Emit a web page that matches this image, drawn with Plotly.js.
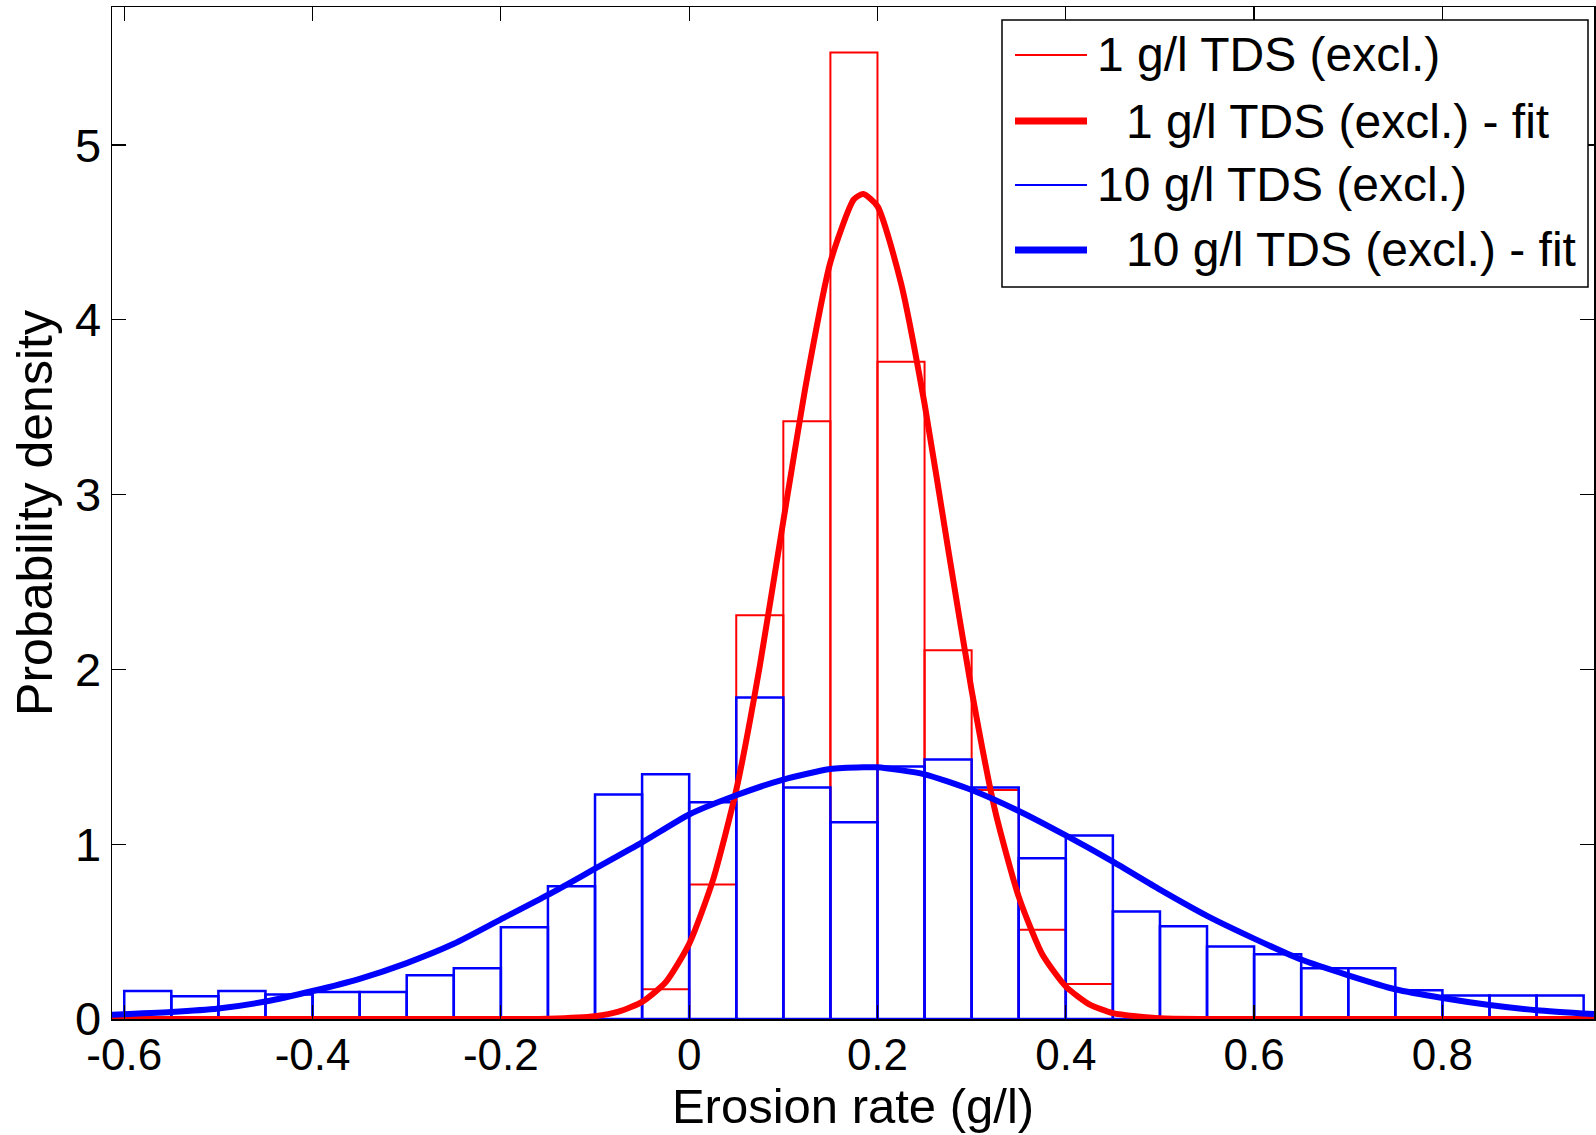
<!DOCTYPE html>
<html>
<head>
<meta charset="utf-8">
<script src="https://cdn.plot.ly/plotly-3.0.1.min.js"></script>
<style>html,body{margin:0;padding:0;background:#fff;}#chart{width:1596px;height:1135px;}</style>
</head>
<body>
<div id="chart"></div>
<script>
// Histogram bin centres (bin width 0.05, edges from -0.6 to 0.95)
const binCenters = [-0.575,-0.525,-0.475,-0.425,-0.375,-0.325,-0.275,-0.225,-0.175,-0.125,-0.075,-0.025,
  0.025,0.075,0.125,0.175,0.225,0.275,0.325,0.375,0.425,0.475,0.525,0.575,0.625,0.675,0.725,0.775,0.825,0.875,0.925];
const binWidth = 0.05;

// 1 g/l TDS (excl.) histogram densities
const red1Hist = [0,0,0,0,0,0,0,0,0,0,0,0.17,
  0.77,2.31,3.42,5.53,3.76,2.11,1.31,0.51,0.20,0,0,0,0,0,0,0,0,0,0];

// 10 g/l TDS (excl.) histogram densities
const blue10Hist = [0.16,0.13,0.16,0.14,0.155,0.155,0.25,0.29,0.525,0.76,1.285,1.40,
  1.24,1.84,1.325,1.125,1.445,1.485,1.325,0.92,1.05,0.615,0.53,0.415,0.37,0.29,0.29,0.165,0.135,0.135,0.135];

// 1 g/l TDS fit curve
const redFitX = [-0.613,-0.3,-0.2,-0.15,-0.1,-0.075,-0.05,-0.025,0,0.025,0.05,0.075,0.1,0.125,0.15,0.175,0.185,0.2,0.225,0.25,0.275,0.3,0.325,0.35,0.375,0.4,0.425,0.45,0.5,0.55,0.7,0.961];
const redFitY = [0,0,0,0.002,0.016,0.042,0.098,0.21,0.43,0.79,1.31,2.02,2.85,3.66,4.33,4.69,4.72,4.65,4.21,3.52,2.69,1.88,1.19,0.70,0.37,0.186,0.084,0.034,0.004,0,0,0];

// 10 g/l TDS fit curve
const blueFitX = [-0.613,-0.55,-0.5,-0.45,-0.4,-0.35,-0.3,-0.25,-0.2,-0.15,-0.1,-0.05,0,0.05,0.1,0.15,0.185,0.2,0.25,0.3,0.35,0.4,0.45,0.5,0.55,0.6,0.65,0.7,0.75,0.8,0.85,0.9,0.961];
const blueFitY = [0.025,0.04,0.06,0.10,0.16,0.23,0.32,0.43,0.57,0.71,0.86,1.01,1.17,1.28,1.37,1.43,1.44,1.44,1.40,1.31,1.19,1.05,0.90,0.74,0.59,0.46,0.34,0.25,0.17,0.12,0.08,0.05,0.028];

const xTicks = [-0.6,-0.4,-0.2,0,0.2,0.4,0.6,0.8];
const xTickText = ['-0.6','-0.4','-0.2','0','0.2','0.4','0.6','0.8'];
const yTicks = [0,1,2,3,4,5];

// Legend entries
const seriesNames = ['1 g/l TDS (excl.)', '1 g/l TDS (excl.) - fit', '10 g/l TDS (excl.)', '10 g/l TDS (excl.) - fit'];
const seriesColors = ['#ff0000', '#ff0000', '#0000ff', '#0000ff'];

const traces = [
  {type:'bar', x:binCenters, y:red1Hist, width:binWidth, name:seriesNames[0], showlegend:false,
   marker:{color:'rgba(0,0,0,0)', line:{color:seriesColors[0], width:2}}},
  {type:'scatter', mode:'lines', x:redFitX, y:redFitY, name:seriesNames[1], showlegend:false,
   line:{color:seriesColors[1], width:6, shape:'spline', smoothing:0.6}},
  {type:'bar', x:binCenters, y:blue10Hist, width:binWidth, name:seriesNames[2], showlegend:false,
   marker:{color:'rgba(0,0,0,0)', line:{color:seriesColors[2], width:2.5}}},
  {type:'scatter', mode:'lines', x:blueFitX, y:blueFitY, name:seriesNames[3], showlegend:false,
   line:{color:seriesColors[3], width:6, shape:'spline', smoothing:0.6}}
];

// Manual legend box (paper coordinates), MATLAB style
const PL = 112, PR = 1594, PT = 7, PB = 1019;
const px = v => (v - PL) / (PR - PL);
const py = v => (PB - v) / (PB - PT);
const rowY = [55, 121, 185, 250];
const sampleW = [2, 7, 2, 7];
const textX = [1096, 1125, 1096, 1125];

const shapes = [{type:'rect', xref:'paper', yref:'paper', x0:px(1002), x1:px(1588), y0:py(287), y1:py(20),
  line:{color:'#000', width:1.5}, fillcolor:'#fff', layer:'above'}];
const annotations = [];
seriesNames.forEach((n, i) => {
  shapes.push({type:'line', xref:'paper', yref:'paper', x0:px(1015), x1:px(1087), y0:py(rowY[i]), y1:py(rowY[i]),
    line:{color:seriesColors[i], width:sampleW[i]}, layer:'above'});
  annotations.push({xref:'paper', yref:'paper', x:px(textX[i]), y:py(rowY[i]), xanchor:'left', yanchor:'middle',
    text:n, showarrow:false, font:{family:'Liberation Sans, Arial, sans-serif', size:48, color:'#000'}, borderpad:0});
});

const font = 'Liberation Sans, Arial, sans-serif';
const layout = {
  width:1596, height:1135,
  margin:{l:PL, r:1596-PR, t:PT, b:1135-PB},
  paper_bgcolor:'#fff', plot_bgcolor:'#fff',
  barmode:'overlay', bargap:0,
  font:{family:font, color:'#000', size:44},
  showlegend:false,
  shapes:shapes, annotations:annotations,
  xaxis:{range:[-0.613,0.961], tickvals:xTicks, ticktext:xTickText,
    ticks:'inside', ticklen:14, tickwidth:1.2, tickcolor:'#000',
    showline:true, linecolor:'#000', linewidth:1.5, mirror:'ticks',
    showgrid:false, zeroline:false, ticklabelstandoff:-3,
    tickfont:{family:font, size:44, color:'#000'},
    title:{text:'Erosion rate (g/l)', font:{family:font, size:49, color:'#000'}, standoff:0}},
  yaxis:{range:[0,5.79], tickvals:yTicks,
    ticks:'inside', ticklen:14, tickwidth:1.2, tickcolor:'#000',
    showline:true, linecolor:'#000', linewidth:1.5, mirror:'ticks',
    showgrid:false, zeroline:false,
    tickfont:{family:font, size:47, color:'#000'},
    title:{text:'Probability density', font:{family:font, size:50, color:'#000'}, standoff:6}}
};

Plotly.newPlot('chart', traces, layout, {displayModeBar:false, staticPlot:true});
</script>
</body>
</html>
